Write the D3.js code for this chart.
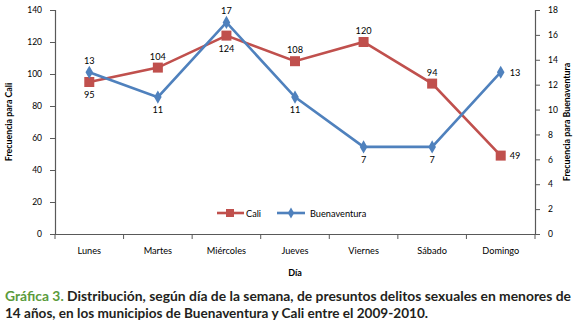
<!DOCTYPE html>
<html><head><meta charset="utf-8">
<script src="https://cdn.jsdelivr.net/npm/d3@7"></script>
<style>body{margin:0;background:#fff;}svg{display:block;font-family:Lato,"Open Sans",sans-serif;}</style>
</head><body>
<svg id="c" width="579" height="333"></svg>
<script>
const days = ["Lunes","Martes","Miércoles","Jueves","Viernes","Sábado","Domingo"];
const cali = [95,104,124,108,120,94,49];
const buenaventura = [13,11,17,11,7,7,13];
const leftTicks = [0,20,40,60,80,100,120,140];
const rightTicks = [0,2,4,6,8,10,12,14,16,18];
const caliPos = ["below","above","below","above","above","above","right"];
const buenaPos = ["above","below","above","below","below","below","right"];

const svg = d3.select("#c");
const x0 = 55, x1 = 535, yTop = 10, yBot = 234;
const x = d3.scaleBand().domain(days).range([x0,x1]);
const yL = d3.scaleLinear().domain([0,140]).range([yBot,yTop]);
const yR = d3.scaleLinear().domain([0,18]).range([yBot,yTop]);
const red = "#C0504D", blue = "#4F81BD", axisC = "#595959";

const gL = svg.append("g").attr("transform",`translate(${x0},0)`)
  .call(d3.axisLeft(yL).tickValues(leftTicks).tickSize(5).tickPadding(8));
const gR = svg.append("g").attr("transform",`translate(${x1},0)`)
  .call(d3.axisRight(yR).tickValues(rightTicks).tickSize(5).tickPadding(8));
const gB = svg.append("g").attr("transform",`translate(0,${yBot})`)
  .call(d3.axisBottom(x).tickSize(0).tickPadding(13));
[gL,gR].forEach(g=>{
  g.selectAll("text").style("font-size","8.5px");
});
gB.selectAll("text").style("font-size","9.2px");
[gL,gR,gB].forEach(g=>{
  g.select(".domain").attr("stroke",axisC).attr("stroke-width",1.2);
  g.selectAll(".tick line").attr("stroke",axisC);
  g.selectAll("text").attr("fill","#000").style("font-family","Lato,sans-serif");
});
svg.append("g").selectAll("line").data(d3.range(days.length+1)).join("line")
  .attr("x1",i=>x0+i*x.step()).attr("x2",i=>x0+i*x.step())
  .attr("y1",yBot).attr("y2",yBot+5).attr("stroke",axisC);

const lineC = d3.line().x((d,i)=>x(days[i])+x.bandwidth()/2).y(d=>yL(d));
const lineB = d3.line().x((d,i)=>x(days[i])+x.bandwidth()/2).y(d=>yR(d));
svg.append("path").attr("d",lineC(cali)).attr("fill","none").attr("stroke",red).attr("stroke-width",2.6);
svg.append("path").attr("d",lineB(buenaventura)).attr("fill","none").attr("stroke",blue).attr("stroke-width",2.6);
svg.append("g").selectAll("rect").data(cali).join("rect")
  .attr("x",(d,i)=>x(days[i])+x.bandwidth()/2-5).attr("y",d=>yL(d)-5)
  .attr("width",10).attr("height",10).attr("fill",red);
const sym = d3.symbol().type(d3.symbolDiamond).size(50);
svg.append("g").selectAll("path").data(buenaventura).join("path")
  .attr("d",sym).attr("fill",blue)
  .attr("transform",(d,i)=>`translate(${x(days[i])+x.bandwidth()/2},${yR(d)})`);

function lab(vals, pos, sc){
  svg.append("g").selectAll("text").data(vals).join("text")
   .attr("x",(d,i)=>x(days[i])+x.bandwidth()/2 + (pos[i]==="right"?9:0))
   .attr("y",(d,i)=>sc(d) + (pos[i]==="above"?-8:pos[i]==="below"?16:3.5))
   .attr("text-anchor",(d,i)=>pos[i]==="right"?"start":"middle")
   .style("font-size","9.2px").text(d=>d);
}
lab(cali,caliPos,yL);
lab(buenaventura,buenaPos,yR);

svg.append("text").attr("transform",`translate(12,${(yTop+yBot)/2}) rotate(-90)`)
  .attr("text-anchor","middle").style("font-size","8.8px").style("font-weight","bold").text("Frecuencia para Cali");
svg.append("text").attr("transform",`translate(570,${(yTop+yBot)/2}) rotate(-90)`)
  .attr("text-anchor","middle").style("font-size","8.8px").style("font-weight","bold").text("Frecuencia para Buenaventura");
svg.append("text").attr("x",(x0+x1)/2).attr("y",276).attr("text-anchor","middle")
  .style("font-size","9px").style("font-weight","bold").text("Día");

const lg = svg.append("g");
lg.append("line").attr("x1",217).attr("x2",244).attr("y1",213).attr("y2",213).attr("stroke",red).attr("stroke-width",2.6);
lg.append("rect").attr("x",226).attr("y",209).attr("width",8).attr("height",8).attr("fill",red);
lg.append("text").attr("x",246).attr("y",216.5).style("font-size","9.2px").text("Cali");
lg.append("line").attr("x1",277).attr("x2",305).attr("y1",213).attr("y2",213).attr("stroke",blue).attr("stroke-width",2.6);
lg.append("path").attr("d",d3.symbol().type(d3.symbolDiamond).size(35)).attr("fill",blue).attr("transform","translate(291,213)");
lg.append("text").attr("x",310).attr("y",216.5).style("font-size","9.2px").text("Buenaventura");

const cap = svg.append("text").attr("x",5).attr("y",301).style("font-size","13px").style("font-weight","bold")
  .attr("textLength",566).attr("lengthAdjust","spacingAndGlyphs");
cap.append("tspan").attr("fill","#5B9B3C").text("Gráfica 3. ");
cap.append("tspan").attr("fill","#231F20").text("Distribución, según día de la semana, de presuntos delitos sexuales en menores de");
svg.append("text").attr("x",5).attr("y",318).style("font-size","13px").style("font-weight","bold").attr("fill","#231F20")
  .attr("textLength",423).attr("lengthAdjust","spacingAndGlyphs")
  .text("14 años, en los municipios de Buenaventura y Cali entre el 2009-2010.");
</script>
</body></html>
